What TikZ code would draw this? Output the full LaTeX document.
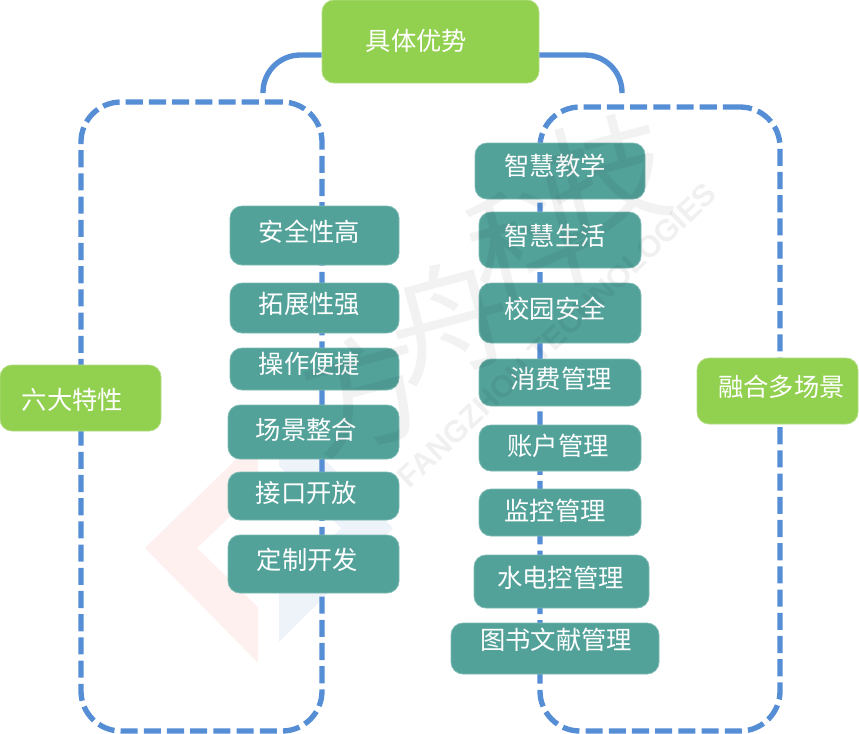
\documentclass[tikz,border=0pt]{standalone}
\usepackage{fontspec}
\setmainfont{Noto Sans CJK SC}
\newfontfamily\wmfont{Liberation Sans}[BoldFont={Liberation Sans Bold}]
\usetikzlibrary{calc}
\definecolor{lineblue}{HTML}{558ED5}
\definecolor{leafgreen}{HTML}{92D050}
\definecolor{tealfill}{HTML}{52A29A}
\definecolor{tealedge}{HTML}{7DBAB3}
\definecolor{wmred}{HTML}{FDF0EE}
\definecolor{wmblue}{HTML}{EEF3FA}
\newcommand{\off}[3]{\raisebox{\dimexpr -0.75pt*#2 - 0.37em\relax}[0pt][0pt]{\makebox[0pt]{\hspace*{\dimexpr 1.5pt*#1\relax}#3}}}
\tikzset{
  x=0.75pt,y=-0.75pt,
  boxbase/.style={rounded corners=9pt,text=white,font=\fontsize{19pt}{20pt}\selectfont,inner sep=0pt},
  greenbox/.style={boxbase,fill=leafgreen,draw=leafgreen!70!white,line width=0.6pt},
  tealbox/.style={boxbase,fill=tealfill,draw=tealedge,line width=0.6pt},
  dashbox/.style={draw=lineblue,line width=4pt,rounded corners=30pt,dash pattern=on 12.8pt off 4.6pt,inner sep=0pt},
  branch/.style={draw=lineblue,line width=4pt,rounded corners=28pt},
  wmchar/.style={text=black,opacity=0.05,font=\fontsize{92pt}{92pt}\selectfont,inner sep=0pt},
  wmtext/.style={text=black,opacity=0.06,font=\wmfont\bfseries\fontsize{23pt}{23pt}\selectfont,inner sep=0pt,rotate=43.5},
}
% #1 name, #2 style, #3 x1, #4 y1, #5 x2, #6 y2, #7 dx, #8 dy, #9 text
\newcommand{\bx}[9]{\node[#2,minimum width={(#5-#3)*0.75pt},minimum height={(#6-#4)*0.75pt}] (#1) at ({(#3+#5)/2},{(#4+#6)/2}) {\off{#7}{#8}{#9}};}
\begin{document}
\begin{tikzpicture}
\useasboundingbox (0,0) rectangle (859,733);
% watermark logo under everything
\fill[wmred] (145,548) -- (258,438) -- (258,490) -- (197,548) -- (258,607) -- (258,663) -- cycle;
\fill[wmblue] (279,642) -- (393,528) -- (279,414) -- (279,466) -- (341,528) -- (279,590) -- cycle;
% dashed panels
\node[dashbox,minimum width={241*0.75pt},minimum height={629*0.75pt}] (panelL) at (201.5,416.5) {};
\node[dashbox,minimum width={240*0.75pt},minimum height={624*0.75pt}] (panelR) at (660,419) {};
% boxes
\bx{top}{greenbox}{322}{0}{539}{83}{-14}{0}{具体优势}
\bx{six}{greenbox}{0}{365}{161}{431}{-8}{2}{六大特性}
\bx{multi}{greenbox}{697}{358}{858}{424}{4}{-4}{融合多场景}
\bx{l1}{tealbox}{230}{206}{399}{265}{-5}{-3}{安全性高}
\bx{l2}{tealbox}{230}{283}{399}{333}{-5}{-4}{拓展性强}
\bx{l3}{tealbox}{230}{348}{399}{390}{-5}{-5}{操作便捷}
\bx{l4}{tealbox}{228}{405}{399}{459}{-7}{-2}{场景整合}
\bx{l5}{tealbox}{228}{472}{399}{520}{-7}{-3}{接口开放}
\bx{l6}{tealbox}{228}{535}{399}{593}{-6}{-4}{定制开发}
\bx{r1}{tealbox}{475}{143}{645}{199}{-5}{-5}{智慧教学}
\bx{r2}{tealbox}{479}{212}{641}{268}{-5}{-4}{智慧生活}
\bx{r3}{tealbox}{479}{283}{641}{343}{-5}{-4}{校园安全}
\bx{r4}{tealbox}{479}{359}{641}{406}{1}{-3}{消费管理}
\bx{r5}{tealbox}{479}{425}{641}{471}{-2}{-2}{账户管理}
\bx{r6}{tealbox}{479}{489}{641}{536}{-5}{-1}{监控管理}
\bx{r7}{tealbox}{474}{555}{649}{608}{-1}{-3}{水电控管理}
\bx{r8}{tealbox}{451}{623}{659}{674}{1}{-8}{图书文献管理}
% branches from the top box down to the panels
\coordinate (tl) at ($(top.west)+(0,13.5)$);
\coordinate (tr) at ($(top.east)+(0,13.5)$);
\coordinate (el) at (263,93);
\coordinate (er) at (622,93);
\draw[branch] (tl) -| (el);
\draw[branch] (tr) -| (er);
% watermark over the boxes
\node[wmchar,rotate=15] (w1) at (365,392) {方};
\node[wmchar,rotate=15] (w2) at (450,320) {舟};
\node[wmchar,rotate=15] (w3) at (530,240) {科};
\node[wmchar,rotate=15] (w4) at (608,175) {技};
\node[wmtext] (w5) at (557,335) {FANGZHOU TECHNOLOGIES};
\end{tikzpicture}
\end{document}
